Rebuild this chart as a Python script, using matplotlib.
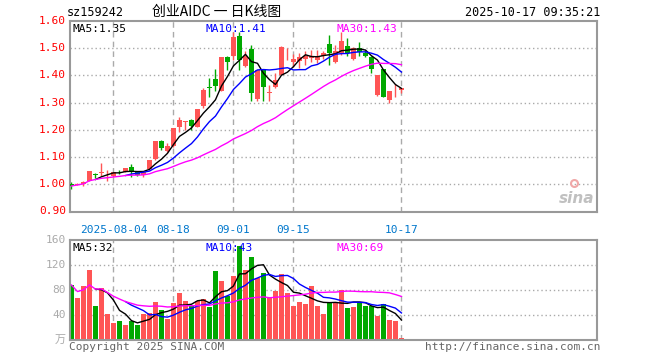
import numpy as np
import pandas as pd
import matplotlib
matplotlib.use("Agg")
import matplotlib.pyplot as plt

# daily bars, 2025-07-24 .. 2025-10-17
opens = [1.002, 0.998, 1.002, 1.012, 1.037, 1.042, 1.036, 1.029, 1.050, 1.045,
         1.062, 1.049, 1.033, 1.055, 1.092, 1.158, 1.123, 1.140, 1.211, 1.230,
         1.235, 1.211, 1.287, 1.357, 1.386, 1.343, 1.469, 1.471, 1.545, 1.433,
         1.498, 1.313, 1.424, 1.335, 1.359, 1.402, 1.474, 1.451, 1.453, 1.461,
         1.463, 1.458, 1.472, 1.515, 1.449, 1.482, 1.509, 1.460, 1.502, 1.484,
         1.466, 1.328, 1.423, 1.310, 1.342, 1.348]
highs = [1.007, 1.004, 1.011, 1.048, 1.043, 1.080, 1.052, 1.046, 1.054, 1.060,
         1.074, 1.050, 1.050, 1.091, 1.160, 1.162, 1.150, 1.207, 1.248, 1.233,
         1.240, 1.276, 1.352, 1.389, 1.425, 1.469, 1.472, 1.561, 1.561, 1.490,
         1.512, 1.420, 1.424, 1.365, 1.408, 1.507, 1.500, 1.480, 1.484, 1.488,
         1.494, 1.494, 1.488, 1.549, 1.512, 1.558, 1.537, 1.505, 1.521, 1.494,
         1.470, 1.402, 1.423, 1.344, 1.367, 1.352]
lows = [0.984, 0.996, 0.994, 1.012, 1.024, 1.029, 1.012, 1.028, 1.037, 1.044,
        1.027, 1.032, 1.028, 1.052, 1.090, 1.126, 1.120, 1.138, 1.193, 1.199,
        1.200, 1.209, 1.282, 1.321, 1.343, 1.342, 1.421, 1.458, 1.420, 1.430,
        1.307, 1.307, 1.307, 1.307, 1.353, 1.400, 1.457, 1.430, 1.426, 1.437,
        1.450, 1.445, 1.462, 1.440, 1.445, 1.476, 1.470, 1.455, 1.470, 1.469,
        1.410, 1.324, 1.320, 1.300, 1.320, 1.335]
closes = [0.994, 1.001, 1.010, 1.048, 1.035, 1.044, 1.038, 1.045, 1.048, 1.059,
          1.049, 1.033, 1.046, 1.088, 1.160, 1.134, 1.141, 1.207, 1.238, 1.233,
          1.216, 1.276, 1.346, 1.353, 1.362, 1.469, 1.450, 1.542, 1.455, 1.472,
          1.334, 1.420, 1.359, 1.338, 1.383, 1.504, 1.476, 1.460, 1.466, 1.473,
          1.472, 1.472, 1.482, 1.482, 1.490, 1.528, 1.482, 1.500, 1.485, 1.472,
          1.423, 1.402, 1.320, 1.344, 1.344, 1.352]
# volume, 10k lots
volumes = [88, 67, 86, 112, 54, 83, 42, 28, 30, 24,
           31, 24, 42, 44, 61, 48, 34, 60, 76, 62,
           54, 62, 66, 53, 111, 94, 71, 103, 150, 112,
           133, 99, 108, 68, 79, 106, 75, 54, 61, 58,
           86, 54, 42, 59, 60, 80, 52, 53, 59, 54,
           55, 38, 57, 32, 30, 3]

tick_pos = [7, 17, 27, 37, 55]
tick_labels = ["2025-08-04", "08-18", "09-01", "09-15", "10-17"]
price_ticks = [0.90, 1.00, 1.10, 1.20, 1.30, 1.40, 1.50, 1.60]
vol_ticks = [0, 40, 80, 120, 160]
vol_tick_labels = ["万", "40", "80", "120", "160"]

RED = "#ff5555"
GREEN = "#00a800"
BORDER = "#999999"
GRID = "#aaaaaa"
MONO = "DejaVu Sans Mono"

W, H = 660, 360
fig = plt.figure(figsize=(W / 100, H / 100), dpi=100)


def box(x0, y0, x1, y1):
    # pixel box (top-left origin) -> figure rect
    return [x0 / W, 1 - y1 / H, (x1 - x0) / W, (y1 - y0) / H]


def ftext(x, y, s, **kw):
    fig.text(x / W, 1 - y / H, s, **kw)


def trunc(val, nd):
    # sina cuts the MA readouts instead of rounding them
    k = 10 ** nd
    return np.floor(val * k + 1e-9) / k


ax = fig.add_axes(box(70, 21, 597, 211.5))
axv = fig.add_axes(box(70, 240, 597, 340))

n = len(closes)
x = np.arange(n)
o = np.array(opens)
c = np.array(closes)
up = c >= o
colors = np.where(up, RED, GREEN)

s = pd.Series(closes)
ma5 = s.rolling(5).mean()
ma10 = s.rolling(10).mean()
ma30 = s.rolling(30, min_periods=1).mean()

v = pd.Series(volumes)
vma5 = v.rolling(5).mean()
vma10 = v.rolling(10).mean()
vma30 = v.rolling(30, min_periods=1).mean()

xlim = (-0.25, 87.6)

for a in (ax, axv):
    a.set_xlim(*xlim)
    for sp in a.spines.values():
        sp.set_color(BORDER)
        sp.set_linewidth(1.5)
    a.set_xticks([])
    a.set_yticks([])
    for p in tick_pos:
        a.axvline(p, color=GRID, lw=1, ls=(0, (4, 3)), zorder=0)

# price panel
ax.set_ylim(0.90, 1.60)
for yv in price_ticks[1:-1]:
    ax.axhline(yv, color=GRID, lw=1, ls=(0, (1, 2)), zorder=0)

ax.vlines(x, lows, highs, colors=colors, lw=1, zorder=2)
body = np.maximum(np.abs(c - o), 0.002)
ax.bar(x, body, bottom=np.minimum(o, c), width=0.78, color=colors, zorder=3)

ax.plot(x, ma5, color="black", lw=1, zorder=4)
ax.plot(x, ma10, color="#0000ff", lw=1, zorder=4)
ax.plot(x, ma30, color="#ff00ff", lw=1, zorder=4)

ax.text(0.005, 0.985, f"MA5:{trunc(ma5.iloc[-1], 2):.2f}", transform=ax.transAxes,
        ha="left", va="top", fontsize=8, family=MONO, color="black")
ax.text(0.257, 0.985, f"MA10:{trunc(ma10.iloc[-1], 2):.2f}", transform=ax.transAxes,
        ha="left", va="top", fontsize=8, family=MONO, color="#0000ff")
ax.text(0.505, 0.985, f"MA30:{trunc(ma30.iloc[-1], 2):.2f}", transform=ax.transAxes,
        ha="left", va="top", fontsize=8, family=MONO, color="#ff00ff")

# sina watermark
ax.text(0.995, 0.03, "sina", transform=ax.transAxes, ha="right", va="bottom",
        fontsize=11, style="italic", weight="bold", color="#c0c0c0", zorder=1)
ax.plot([0.957], [0.15], marker="o", ms=5, mfc="none", mec="#f0a8a8",
        mew=1.5, transform=ax.transAxes, zorder=1)

for yv in price_ticks:
    ax.text(-0.008, yv, f"{yv:.2f}", transform=ax.get_yaxis_transform(),
            ha="right", va="center", fontsize=8, family=MONO, color="red")

for p, lab in zip(tick_pos, tick_labels):
    ax.text(p, -0.07, lab, transform=ax.get_xaxis_transform(), ha="center",
            va="top", fontsize=8, family=MONO, color="#0077cc")

# volume panel
axv.set_ylim(0, 160)
for yv in vol_ticks[1:-1]:
    axv.axhline(yv, color=GRID, lw=1, ls=(0, (1, 2)), zorder=0)
axv.bar(x, volumes, width=0.83, color=colors, zorder=2)
axv.plot(x, vma5, color="black", lw=1, zorder=4)
axv.plot(x, vma10, color="#0000ff", lw=1, zorder=4)
axv.plot(x, vma30, color="#ff00ff", lw=1, zorder=4)

axv.text(0.005, 0.97, f"MA5:{trunc(vma5.iloc[-1], 0):.0f}", transform=axv.transAxes,
         ha="left", va="top", fontsize=8, family=MONO, color="black", zorder=5)
axv.text(0.257, 0.97, f"MA10:{trunc(vma10.iloc[-1], 0):.0f}", transform=axv.transAxes,
         ha="left", va="top", fontsize=8, family=MONO, color="#0000ff", zorder=5)
axv.text(0.505, 0.97, f"MA30:{trunc(vma30.iloc[-1], 0):.0f}", transform=axv.transAxes,
         ha="left", va="top", fontsize=8, family=MONO, color="#ff00ff", zorder=5)

for yv, lab in zip(vol_ticks, vol_tick_labels):
    axv.text(-0.008, yv, lab, transform=axv.get_yaxis_transform(),
             ha="right", va="center", fontsize=8, color="#aaaaaa",
             family=[MONO, "Noto Sans CJK SC"])

# header / footer
ftext(67, 12, "sz159242", ha="left", va="center", fontsize=8.5, family=MONO)
ftext(152, 12, "创业AIDC 一 日K线图", ha="left", va="center", fontsize=10,
      family=["Noto Sans CJK SC", "DejaVu Sans"])
ftext(600, 12, "2025-10-17 09:35:21", ha="right", va="center", fontsize=8.5,
      family=MONO)
ftext(69, 347, "Copyright 2025 SINA.COM", ha="left", va="center", fontsize=8,
      family=MONO, color="#666666")
ftext(600, 347, "http://finance.sina.com.cn", ha="right", va="center",
      fontsize=8, family=MONO, color="#666666")

fig.savefig("out.png", dpi=100, facecolor="white")
